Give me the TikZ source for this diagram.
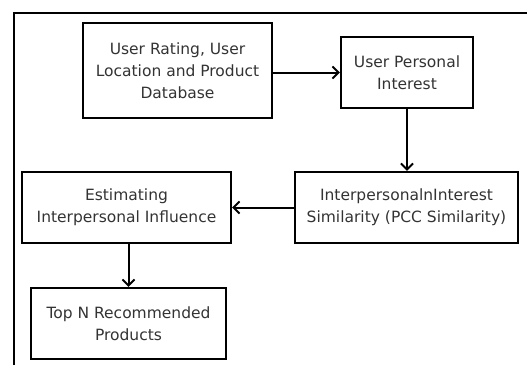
\documentclass[tikz,border=0pt]{standalone}
\usepackage{fontspec}
\setmainfont{DejaVu Sans}
\usetikzlibrary{arrows.meta}
\begin{document}
\begin{tikzpicture}[x=1pt,y=-1pt,
  box/.style={draw=black, line width=2.2pt, align=center, text=black!80, font=\fontsize{15.5}{22}\selectfont, inner sep=0pt},
  conn/.style={line width=2pt, -{Straight Barb[length=6pt,width=12pt,line width=2pt]}}]
\useasboundingbox (0,0) rectangle (527,365);
\draw[line width=2pt] (14,365) coordinate (fb) -- (14,13) coordinate (fc) -- (530,13) coordinate (fr);
\node[box, minimum width=189pt, minimum height=95pt] (b1) at (177.5,70.5) {User Rating, User\\Location and Product\\Database};
\node[box, minimum width=132pt, minimum height=71pt] (b2) at (407,72.5) {User Personal\\Interest};
\node[box, minimum width=223pt, minimum height=71pt] (b3) at (406.5,207.5) {InterpersonalnInterest\\Similarity (PCC Similarity)};
\node[box, minimum width=209pt, minimum height=71pt] (b4) at (126.5,207.5) {Estimating\\Interpersonal Influence};
\node[box, minimum width=195pt, minimum height=71pt] (b5) at (128.5,323.5) {Top N Recommended\\Products};
\draw[conn] (b1.east |- b2.west) -- (b2.west);
\draw[conn] (b2.south) -- (b3.north -| b2.south);
\draw[conn] (b3.west) -- (b4.east);
\draw[conn] (b4.south -| b5.north) -- (b5.north);
\end{tikzpicture}
\end{document}
